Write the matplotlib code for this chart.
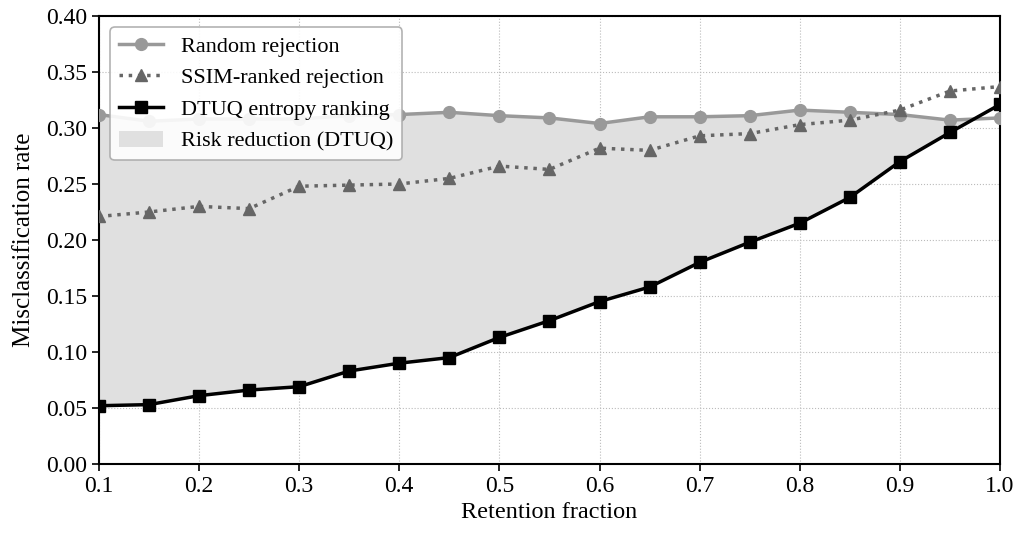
import numpy as np
import matplotlib
matplotlib.use("Agg")
import matplotlib.pyplot as plt

# Data
retention = [0.10, 0.15, 0.20, 0.25, 0.30, 0.35, 0.40, 0.45, 0.50, 0.55,
             0.60, 0.65, 0.70, 0.75, 0.80, 0.85, 0.90, 0.95, 1.00]
random_rej = [0.312, 0.306, 0.308, 0.308, 0.308, 0.311, 0.312, 0.314, 0.311, 0.309,
              0.304, 0.310, 0.310, 0.311, 0.316, 0.314, 0.312, 0.307, 0.309]
ssim_rej = [0.221, 0.225, 0.230, 0.228, 0.248, 0.249, 0.250, 0.255, 0.266, 0.263,
            0.282, 0.280, 0.293, 0.295, 0.303, 0.307, 0.316, 0.333, 0.337]
dtuq_rank = [0.052, 0.053, 0.061, 0.066, 0.069, 0.083, 0.090, 0.095, 0.113, 0.128,
             0.145, 0.158, 0.180, 0.198, 0.215, 0.238, 0.270, 0.296, 0.321]

plt.rcParams['font.family'] = ['Liberation Serif', 'DejaVu Serif']
plt.rcParams['font.size'] = 17

fig = plt.figure(figsize=(10.17, 5.33), dpi=100)
ax = fig.add_axes([0.0973, 0.1295, 0.886, 0.8405])

x = np.array(retention)
r = np.array(random_rej)
d = np.array(dtuq_rank)

ax.fill_between(x, d, r, where=r >= d, interpolate=True,
                color='#e0e0e0', edgecolor='none', label='Risk reduction (DTUQ)', zorder=1)
ax.plot(x, r, color='#999999', lw=2.5, marker='o', ms=8.5,
        label='Random rejection', zorder=3)
ax.plot(x, ssim_rej, color='#666666', lw=2.5, ls=':', marker='^', ms=8.5,
        label='SSIM-ranked rejection', zorder=3)
ax.plot(x, d, color='black', lw=2.5, marker='s', ms=8.5,
        label='DTUQ entropy ranking', zorder=4)

ax.set_xlim(0.1, 1.0)
ax.set_ylim(0.0, 0.4)
ax.set_xticks(np.arange(0.1, 1.01, 0.1))
ax.set_yticks(np.arange(0.0, 0.401, 0.05))
ax.xaxis.set_major_formatter(plt.FormatStrFormatter('%.1f'))
ax.yaxis.set_major_formatter(plt.FormatStrFormatter('%.2f'))
ax.grid(True, ls=':', color='#bbbbbb', lw=0.8, zorder=0)
ax.set_axisbelow(True)
ax.tick_params(direction='out', length=5, width=1.2, labelsize=17)
for s in ax.spines.values():
    s.set_linewidth(1.5)

ax.set_xlabel('Retention fraction', fontsize=17.5, labelpad=4)
ax.set_ylabel('Misclassification rate', fontsize=18, labelpad=8)

handles, labels = ax.get_legend_handles_labels()
order = [1, 2, 3, 0]
leg = ax.legend([handles[i] for i in order], [labels[i] for i in order],
                loc='upper left', fancybox=True, framealpha=0.9,
                edgecolor='#aaaaaa', fontsize=16)
leg.get_frame().set_linewidth(1.2)

fig.savefig('out.png', dpi=100)
